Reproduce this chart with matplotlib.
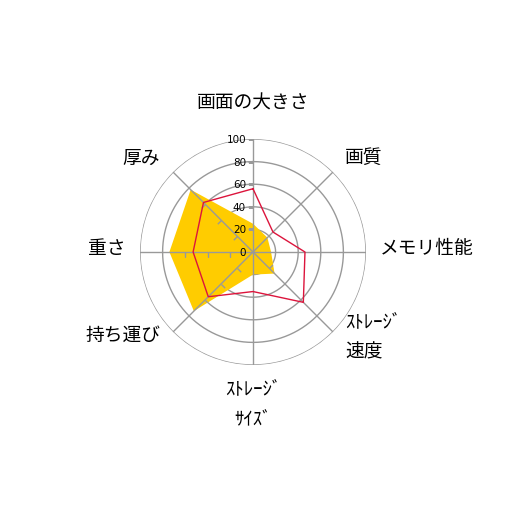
import numpy as np
import matplotlib
matplotlib.use("Agg")
import matplotlib.pyplot as plt
from matplotlib.path import Path
from matplotlib.markers import MarkerStyle
from matplotlib.transforms import Affine2D

plt.rcParams['font.family'] = ['Noto Sans CJK JP', 'DejaVu Sans']

categories = ['画面の大きさ', '画質', 'メモリ性能', 'ｽﾄﾚｰｼﾞ\n速度',
              'ｽﾄﾚｰｼﾞ\nｻｲｽﾞ', '持ち運び', '重さ', '厚み']
yellow_values = [25, 18, 16, 27, 20, 74, 74, 78]
red_values = [56, 25, 46, 63, 35, 56, 53, 62]
levels = [0, 20, 40, 60, 80, 100]

grid_color = '#999999'
n = len(categories)
angles = np.arange(n) * 2 * np.pi / n

fig = plt.figure(figsize=(5.06, 5.06), dpi=100)
ax = fig.add_axes([0.2767, 0.2767, 0.4466, 0.4466], projection='polar')
ax.set_theta_zero_location('N')
ax.set_theta_direction(-1)
ax.set_ylim(0, 100)
ax.grid(False)
ax.set_xticks([])
ax.set_yticks([])
ax.spines['polar'].set_visible(False)

# rings under the fill
ring = np.linspace(0, 2 * np.pi, 361)
for lv in levels[1:]:
    ax.plot(ring, np.full_like(ring, lv), color=grid_color, lw=1, zorder=1)

closed = np.append(angles, angles[0])
poly = ax.fill(closed, yellow_values + yellow_values[:1], color='#FFCC00',
               lw=0, zorder=2)[0]

# spokes and small ticks above the fill (ticks only show where rings are covered)
for i, a in enumerate(angles):
    ax.plot([a, a], [0, 100], color=grid_color, lw=1, zorder=3)
    c = np.degrees(a)
    mk = MarkerStyle(Path([(0, 0), (-1, 0)]), transform=Affine2D().rotate_deg(-c))
    t, = ax.plot([a] * (len(levels) - 1), levels[1:], linestyle='none', marker=mk,
                 markersize=7.5, markeredgecolor=grid_color, markeredgewidth=1,
                 zorder=3)
    if i != 0:
        t.set_clip_path(poly)

ax.plot(closed, red_values + red_values[:1], color='#DC143C', lw=1, zorder=4)

for lv in levels:
    ax.annotate(str(lv), xy=(0, lv), xytext=(-5, 0), textcoords='offset points',
                ha='right', va='center', fontsize=7.5, family='DejaVu Sans', zorder=5)

# label placement: (ha, va, dx px, dy px)
place = [('center', 'bottom', 0, 26), ('left', 'bottom', 12, 5),
         ('left', 'center', 14, 4), ('left', 'center', 12, -4),
         ('center', 'top', 0, -12), ('right', 'center', -13, -2),
         ('right', 'center', -15, 4), ('right', 'bottom', -13, 4)]
for a, lab, (ha, va, dx, dy) in zip(angles, categories, place):
    ax.annotate(lab, xy=(a, 100), xytext=(dx * 0.72, dy * 0.72),
                textcoords='offset points', ha=ha, va=va, fontsize=13.5,
                linespacing=1.55, annotation_clip=False)

fig.savefig('out.png', dpi=100)
